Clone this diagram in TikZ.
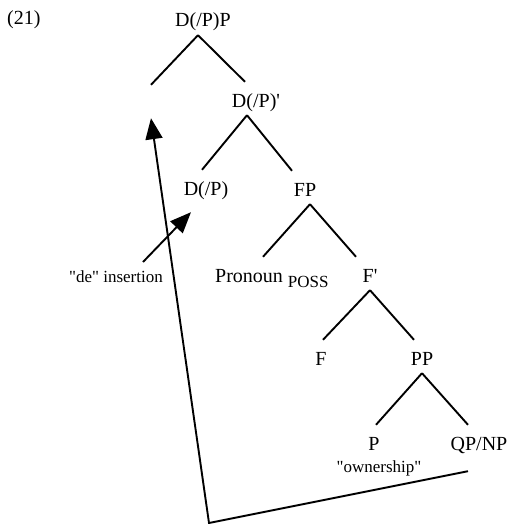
\documentclass[tikz,border=0pt]{standalone}
\usepackage{fontspec}
\setmainfont{Liberation Serif}
\usepackage{tikz}
\usetikzlibrary{arrows.meta}
\newcommand\catsize{\fontsize{20}{24}\selectfont}
\newcommand\glosssize{\fontsize{17}{20}\selectfont}
\tikzset{cat/.style={font=\catsize,inner sep=0pt,text height=25pt,text depth=8pt,anchor=base},gloss/.style={font=\glosssize,inner sep=0pt,anchor=base},branch/.style={line width=1.9pt},movement/.style={line width=1.9pt,-{Triangle[length=21pt,width=17pt]}}}

\begin{document}
\begin{tikzpicture}[x=1pt,y=-1pt]
      \useasboundingbox (0,0) rectangle (509,524);
      \node[cat,anchor=base west](ex) at (7,25){(21)};
      \node[cat](dpp) at (203,27){D(/P)P};
      \node[cat](spec) at (151,110){};
      \node[cat](dpbar) at (256,107){D(/P)\textquotesingle};
      \node[cat](dp) at (206,195){D(/P)};
      \node[cat](fp) at (305,196){FP};
      \node[cat,anchor=base west](pron) at (215,282){Pronoun\kern5pt\raisebox{-5pt}{\glosssize POSS}};
      \node[cat](fbar) at (370,282){F\textquotesingle};
      \node[cat](f) at (321,365){F};
      \node[cat](pp) at (422,365){PP};
      \node[cat](p) at (374,450){P};
      \node[cat](qpnp) at (479,450){QP/NP};
      \node[gloss](own) at (379,472){\textquotedbl ownership\textquotedbl};
      \node[gloss,anchor=base east](ins) at (163,282){\textquotedbl de\textquotedbl{} insertion};
      \coordinate (turn) at (209,523);
      \draw[branch]([xshift=-5pt]dpp.south)--(spec.north);
      \draw[branch]([xshift=-5pt]dpp.south)--([xshift=-11pt]dpbar.north);
      \draw[branch]([xshift=-9pt]dpbar.south)--([xshift=-4pt]dp.north);
      \draw[branch]([xshift=-9pt]dpbar.south)--([xshift=-13pt]fp.north);
      \draw[branch]([xshift=5pt]fp.south)--([xshift=48pt]pron.north west);
      \draw[branch]([xshift=5pt]fp.south)--([xshift=-14pt]fbar.north);
      \draw[branch](fbar.south)--([xshift=2pt]f.north);
      \draw[branch](fbar.south)--([xshift=-8pt]pp.north);
      \draw[branch](pp.south)--([xshift=2pt]p.north);
      \draw[branch](pp.south)--([xshift=-11pt]qpnp.north);
      \draw[movement]([xshift=-20pt,yshift=8pt]ins.north east)--([xshift=-15pt,yshift=-9pt]dp.south);
      \draw[movement]([xshift=-11pt,yshift=-13pt]qpnp.south)--(turn)--(spec.south);
    \end{tikzpicture}
\end{document}
